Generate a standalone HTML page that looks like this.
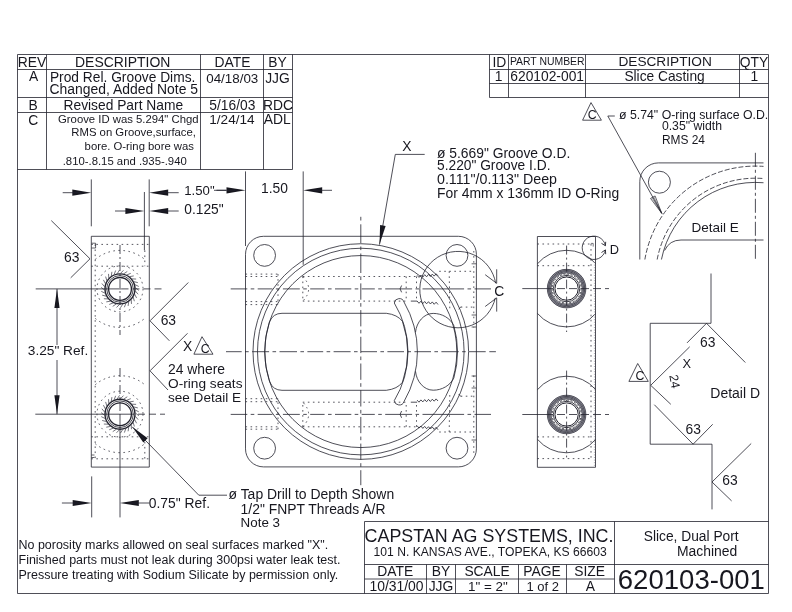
<!DOCTYPE html>
<html><head><meta charset="utf-8"><title>620103-001 Slice, Dual Port Machined</title>
<style>
html,body{margin:0;padding:0;background:#fff;}
body{width:792px;height:612px;overflow:hidden;font-family:"Liberation Sans",sans-serif;}
svg{display:block;will-change:transform;}
svg text{font-family:"Liberation Sans",sans-serif;fill:#17171f;}
</style></head><body>
<svg width="792" height="612" viewBox="0 0 792 612" shape-rendering="geometricPrecision">
<rect width="792" height="612" fill="#ffffff"/>
<path d="M17.5,54.5 H768.5 V593.5 H17.5 Z" fill="none" stroke="#22222d" stroke-width="0.8" />
<line x1="17.50" y1="69.50" x2="292.50" y2="69.50" stroke="#22222d" stroke-width="0.8"/>
<line x1="17.50" y1="97.50" x2="292.50" y2="97.50" stroke="#22222d" stroke-width="0.8"/>
<line x1="17.50" y1="112.50" x2="292.50" y2="112.50" stroke="#22222d" stroke-width="0.8"/>
<line x1="17.50" y1="169.50" x2="292.50" y2="169.50" stroke="#22222d" stroke-width="0.8"/>
<line x1="46.50" y1="54.50" x2="46.50" y2="169.50" stroke="#22222d" stroke-width="0.8"/>
<line x1="200.50" y1="54.50" x2="200.50" y2="169.50" stroke="#22222d" stroke-width="0.8"/>
<line x1="263.50" y1="54.50" x2="263.50" y2="169.50" stroke="#22222d" stroke-width="0.8"/>
<line x1="292.50" y1="54.50" x2="292.50" y2="169.50" stroke="#22222d" stroke-width="0.8"/>
<text x="31.90" y="67.00" font-size="13.85" text-anchor="middle">REV</text>
<text x="75.00" y="67.00" font-size="13.96" text-anchor="start" textLength="95.40" lengthAdjust="spacingAndGlyphs">DESCRIPTION</text>
<text x="232.45" y="67.00" font-size="13.85" text-anchor="middle">DATE</text>
<text x="277.50" y="67.00" font-size="13.85" text-anchor="middle">BY</text>
<text x="33.60" y="80.80" font-size="13.85" text-anchor="middle">A</text>
<text x="49.90" y="82.00" font-size="13.78" text-anchor="start" textLength="145.50" lengthAdjust="spacingAndGlyphs">Prod Rel. Groove Dims.</text>
<text x="49.50" y="93.50" font-size="13.91" text-anchor="start" textLength="148.50" lengthAdjust="spacingAndGlyphs">Changed, Added Note 5</text>
<text x="206.20" y="82.60" font-size="13.38" text-anchor="start" textLength="52.10" lengthAdjust="spacingAndGlyphs">04/18/03</text>
<text x="277.45" y="82.60" font-size="13.85" text-anchor="middle">JJG</text>
<text x="33.10" y="109.60" font-size="13.85" text-anchor="middle">B</text>
<text x="63.50" y="109.60" font-size="13.79" text-anchor="start" textLength="119.60" lengthAdjust="spacingAndGlyphs">Revised Part Name</text>
<text x="209.30" y="109.60" font-size="13.79" text-anchor="start" textLength="46.00" lengthAdjust="spacingAndGlyphs">5/16/03</text>
<text x="278.10" y="109.60" font-size="13.85" text-anchor="middle">RDC</text>
<text x="33.30" y="124.60" font-size="13.85" text-anchor="middle">C</text>
<text x="58.00" y="123.00" font-size="11.32" text-anchor="start" textLength="140.60" lengthAdjust="spacingAndGlyphs">Groove ID was 5.294&quot; Chgd</text>
<text x="71.30" y="135.80" font-size="11.33" text-anchor="start" textLength="124.70" lengthAdjust="spacingAndGlyphs">RMS on Groove,surface,</text>
<text x="84.60" y="149.50" font-size="11.31" text-anchor="start" textLength="109.40" lengthAdjust="spacingAndGlyphs">bore. O-ring bore was</text>
<text x="62.70" y="165.00" font-size="11.33" text-anchor="start" textLength="124.10" lengthAdjust="spacingAndGlyphs">.810-.8.15 and .935-.940</text>
<text x="209.30" y="123.60" font-size="13.58" text-anchor="start" textLength="45.30" lengthAdjust="spacingAndGlyphs">1/24/14</text>
<text x="277.25" y="123.60" font-size="13.85" text-anchor="middle">ADL</text>
<line x1="489.50" y1="69.50" x2="768.50" y2="69.50" stroke="#22222d" stroke-width="0.8"/>
<line x1="489.50" y1="83.50" x2="768.50" y2="83.50" stroke="#22222d" stroke-width="0.8"/>
<line x1="489.50" y1="97.50" x2="768.50" y2="97.50" stroke="#22222d" stroke-width="0.8"/>
<line x1="489.50" y1="54.50" x2="489.50" y2="97.50" stroke="#22222d" stroke-width="0.8"/>
<line x1="508.50" y1="54.50" x2="508.50" y2="97.50" stroke="#22222d" stroke-width="0.8"/>
<line x1="585.50" y1="54.50" x2="585.50" y2="97.50" stroke="#22222d" stroke-width="0.8"/>
<line x1="739.50" y1="54.50" x2="739.50" y2="97.50" stroke="#22222d" stroke-width="0.8"/>
<text x="499.40" y="66.80" font-size="13.85" text-anchor="middle">ID</text>
<text x="509.90" y="65.40" font-size="11.3" text-anchor="start" textLength="74.70" lengthAdjust="spacingAndGlyphs">PART NUMBER</text>
<text x="618.40" y="65.80" font-size="13.67" text-anchor="start" textLength="93.40" lengthAdjust="spacingAndGlyphs">DESCRIPTION</text>
<text x="754.05" y="66.60" font-size="13.85" text-anchor="middle">QTY</text>
<text x="498.50" y="81.00" font-size="13.85" text-anchor="middle">1</text>
<text x="510.30" y="81.00" font-size="13.81" text-anchor="start" textLength="73.70" lengthAdjust="spacingAndGlyphs">620102-001</text>
<text x="624.40" y="81.00" font-size="13.76" text-anchor="start" textLength="80.30" lengthAdjust="spacingAndGlyphs">Slice Casting</text>
<text x="754.30" y="81.00" font-size="13.85" text-anchor="middle">1</text>
<line x1="364.50" y1="521.50" x2="768.50" y2="521.50" stroke="#22222d" stroke-width="0.8"/>
<line x1="364.50" y1="521.50" x2="364.50" y2="593.50" stroke="#22222d" stroke-width="0.8"/>
<line x1="364.50" y1="564.50" x2="768.50" y2="564.50" stroke="#22222d" stroke-width="0.8"/>
<line x1="364.50" y1="579.00" x2="614.50" y2="579.00" stroke="#22222d" stroke-width="0.8"/>
<line x1="426.50" y1="564.50" x2="426.50" y2="593.50" stroke="#22222d" stroke-width="0.8"/>
<line x1="455.50" y1="564.50" x2="455.50" y2="593.50" stroke="#22222d" stroke-width="0.8"/>
<line x1="518.50" y1="564.50" x2="518.50" y2="593.50" stroke="#22222d" stroke-width="0.8"/>
<line x1="566.50" y1="564.50" x2="566.50" y2="593.50" stroke="#22222d" stroke-width="0.8"/>
<line x1="614.50" y1="521.50" x2="614.50" y2="593.50" stroke="#22222d" stroke-width="0.8"/>
<text x="364.60" y="542.00" font-size="17.87" text-anchor="start" textLength="248.90" lengthAdjust="spacingAndGlyphs">CAPSTAN AG SYSTEMS, INC.</text>
<text x="373.60" y="555.80" font-size="12.12" text-anchor="start" textLength="233.10" lengthAdjust="spacingAndGlyphs">101 N. KANSAS AVE., TOPEKA, KS 66603</text>
<text x="395.25" y="576.40" font-size="13.85" text-anchor="middle">DATE</text>
<text x="440.95" y="576.40" font-size="13.85" text-anchor="middle">BY</text>
<text x="464.40" y="576.40" font-size="13.81" text-anchor="start" textLength="45.30" lengthAdjust="spacingAndGlyphs">SCALE</text>
<text x="541.95" y="576.40" font-size="13.85" text-anchor="middle">PAGE</text>
<text x="589.65" y="576.40" font-size="13.85" text-anchor="middle">SIZE</text>
<text x="369.40" y="590.60" font-size="13.92" text-anchor="start" textLength="54.20" lengthAdjust="spacingAndGlyphs">10/31/00</text>
<text x="440.95" y="590.60" font-size="13.85" text-anchor="middle">JJG</text>
<text x="468.00" y="590.60" font-size="13.44" text-anchor="start" textLength="39.80" lengthAdjust="spacingAndGlyphs">1&quot; = 2&quot;</text>
<text x="526.40" y="590.60" font-size="12.99" text-anchor="start" textLength="32.50" lengthAdjust="spacingAndGlyphs">1 of 2</text>
<text x="590.45" y="590.60" font-size="13.85" text-anchor="middle">A</text>
<text x="643.70" y="541.00" font-size="13.78" text-anchor="start" textLength="95.00" lengthAdjust="spacingAndGlyphs">Slice, Dual Port</text>
<text x="677.00" y="556.00" font-size="13.91" text-anchor="start" textLength="60.30" lengthAdjust="spacingAndGlyphs">Machined</text>
<text x="617.80" y="588.50" font-size="27.55" text-anchor="start" textLength="147.10" lengthAdjust="spacingAndGlyphs">620103-001</text>
<text x="18.50" y="549.20" font-size="12.47" text-anchor="start" textLength="309.70" lengthAdjust="spacingAndGlyphs">No porosity marks allowed on seal surfaces marked &quot;X&quot;.</text>
<text x="18.50" y="564.20" font-size="12.48" text-anchor="start" textLength="322.00" lengthAdjust="spacingAndGlyphs">Finished parts must not leak during 300psi water leak test.</text>
<text x="18.50" y="578.90" font-size="12.49" text-anchor="start" textLength="319.70" lengthAdjust="spacingAndGlyphs">Pressure treating with Sodium Silicate by permission only.</text>
<rect x="245.5" y="236.3" width="230.90" height="230.60" rx="18" ry="18" fill="none" stroke="#22222d" stroke-width="0.8"/>
<circle cx="264.60" cy="255.40" r="10.90" fill="none" stroke="#22222d" stroke-width="0.8"/>
<circle cx="264.60" cy="448.20" r="10.90" fill="none" stroke="#22222d" stroke-width="0.8"/>
<circle cx="457.00" cy="255.40" r="10.90" fill="none" stroke="#22222d" stroke-width="0.8"/>
<circle cx="457.00" cy="448.20" r="10.90" fill="none" stroke="#22222d" stroke-width="0.8"/>
<circle cx="360.80" cy="351.55" r="107.80" fill="none" stroke="#22222d" stroke-width="0.8"/>
<circle cx="360.80" cy="351.55" r="103.30" fill="none" stroke="#22222d" stroke-width="0.8"/>
<circle cx="360.80" cy="351.55" r="96.00" fill="none" stroke="#22222d" stroke-width="0.8"/>
<line x1="360.80" y1="224.30" x2="360.80" y2="243.10" stroke="#22222d" stroke-width="0.8"/>
<line x1="360.80" y1="246.50" x2="360.80" y2="250.10" stroke="#22222d" stroke-width="0.8"/>
<line x1="360.80" y1="253.50" x2="360.80" y2="273.00" stroke="#22222d" stroke-width="0.8"/>
<line x1="360.80" y1="276.40" x2="360.80" y2="280.00" stroke="#22222d" stroke-width="0.8"/>
<line x1="360.80" y1="283.40" x2="360.80" y2="299.70" stroke="#22222d" stroke-width="0.8"/>
<line x1="360.80" y1="303.10" x2="360.80" y2="306.70" stroke="#22222d" stroke-width="0.8"/>
<line x1="360.80" y1="310.10" x2="360.80" y2="326.40" stroke="#22222d" stroke-width="0.8"/>
<line x1="360.80" y1="329.80" x2="360.80" y2="333.40" stroke="#22222d" stroke-width="0.8"/>
<line x1="360.80" y1="336.80" x2="360.80" y2="353.10" stroke="#22222d" stroke-width="0.8"/>
<line x1="360.80" y1="356.50" x2="360.80" y2="360.10" stroke="#22222d" stroke-width="0.8"/>
<line x1="360.80" y1="363.50" x2="360.80" y2="379.80" stroke="#22222d" stroke-width="0.8"/>
<line x1="360.80" y1="383.20" x2="360.80" y2="386.80" stroke="#22222d" stroke-width="0.8"/>
<line x1="360.80" y1="390.20" x2="360.80" y2="406.50" stroke="#22222d" stroke-width="0.8"/>
<line x1="360.80" y1="409.90" x2="360.80" y2="413.50" stroke="#22222d" stroke-width="0.8"/>
<line x1="360.80" y1="416.90" x2="360.80" y2="433.20" stroke="#22222d" stroke-width="0.8"/>
<line x1="360.80" y1="436.60" x2="360.80" y2="440.20" stroke="#22222d" stroke-width="0.8"/>
<line x1="360.80" y1="443.60" x2="360.80" y2="459.80" stroke="#22222d" stroke-width="0.8"/>
<line x1="360.80" y1="463.20" x2="360.80" y2="466.80" stroke="#22222d" stroke-width="0.8"/>
<line x1="360.80" y1="470.20" x2="360.80" y2="485.20" stroke="#22222d" stroke-width="0.8"/>
<line x1="360.80" y1="216.80" x2="360.80" y2="220.50" stroke="#22222d" stroke-width="0.8"/>
<line x1="226.00" y1="351.70" x2="241.70" y2="351.70" stroke="#22222d" stroke-width="0.8"/>
<line x1="245.10" y1="351.70" x2="248.70" y2="351.70" stroke="#22222d" stroke-width="0.8"/>
<line x1="252.10" y1="351.70" x2="269.10" y2="351.70" stroke="#22222d" stroke-width="0.8"/>
<line x1="272.50" y1="351.70" x2="276.10" y2="351.70" stroke="#22222d" stroke-width="0.8"/>
<line x1="279.50" y1="351.70" x2="297.00" y2="351.70" stroke="#22222d" stroke-width="0.8"/>
<line x1="300.40" y1="351.70" x2="304.00" y2="351.70" stroke="#22222d" stroke-width="0.8"/>
<line x1="307.40" y1="351.70" x2="323.20" y2="351.70" stroke="#22222d" stroke-width="0.8"/>
<line x1="326.60" y1="351.70" x2="330.20" y2="351.70" stroke="#22222d" stroke-width="0.8"/>
<line x1="333.60" y1="351.70" x2="350.60" y2="351.70" stroke="#22222d" stroke-width="0.8"/>
<line x1="354.00" y1="351.70" x2="357.60" y2="351.70" stroke="#22222d" stroke-width="0.8"/>
<line x1="361.00" y1="351.70" x2="377.00" y2="351.70" stroke="#22222d" stroke-width="0.8"/>
<line x1="380.40" y1="351.70" x2="384.00" y2="351.70" stroke="#22222d" stroke-width="0.8"/>
<line x1="387.40" y1="351.70" x2="404.00" y2="351.70" stroke="#22222d" stroke-width="0.8"/>
<line x1="407.40" y1="351.70" x2="411.00" y2="351.70" stroke="#22222d" stroke-width="0.8"/>
<line x1="414.40" y1="351.70" x2="431.00" y2="351.70" stroke="#22222d" stroke-width="0.8"/>
<line x1="434.40" y1="351.70" x2="438.00" y2="351.70" stroke="#22222d" stroke-width="0.8"/>
<line x1="441.40" y1="351.70" x2="458.70" y2="351.70" stroke="#22222d" stroke-width="0.8"/>
<line x1="462.10" y1="351.70" x2="465.70" y2="351.70" stroke="#22222d" stroke-width="0.8"/>
<line x1="469.10" y1="351.70" x2="485.70" y2="351.70" stroke="#22222d" stroke-width="0.8"/>
<line x1="489.30" y1="351.70" x2="495.90" y2="351.70" stroke="#22222d" stroke-width="0.8"/>
<line x1="230.70" y1="288.90" x2="247.30" y2="288.90" stroke="#22222d" stroke-width="0.8"/>
<line x1="250.70" y1="288.90" x2="254.30" y2="288.90" stroke="#22222d" stroke-width="0.8"/>
<line x1="257.70" y1="288.90" x2="272.50" y2="288.90" stroke="#22222d" stroke-width="0.8"/>
<line x1="275.90" y1="288.90" x2="279.50" y2="288.90" stroke="#22222d" stroke-width="0.8"/>
<line x1="282.90" y1="288.90" x2="299.80" y2="288.90" stroke="#22222d" stroke-width="0.8"/>
<line x1="303.20" y1="288.90" x2="306.80" y2="288.90" stroke="#22222d" stroke-width="0.8"/>
<line x1="310.20" y1="288.90" x2="324.60" y2="288.90" stroke="#22222d" stroke-width="0.8"/>
<line x1="328.00" y1="288.90" x2="331.60" y2="288.90" stroke="#22222d" stroke-width="0.8"/>
<line x1="335.00" y1="288.90" x2="351.30" y2="288.90" stroke="#22222d" stroke-width="0.8"/>
<line x1="354.70" y1="288.90" x2="358.30" y2="288.90" stroke="#22222d" stroke-width="0.8"/>
<line x1="361.70" y1="288.90" x2="374.80" y2="288.90" stroke="#22222d" stroke-width="0.8"/>
<line x1="378.20" y1="288.90" x2="381.80" y2="288.90" stroke="#22222d" stroke-width="0.8"/>
<line x1="385.20" y1="288.90" x2="412.10" y2="288.90" stroke="#22222d" stroke-width="0.8"/>
<line x1="415.50" y1="288.90" x2="419.10" y2="288.90" stroke="#22222d" stroke-width="0.8"/>
<line x1="422.50" y1="288.90" x2="464.10" y2="288.90" stroke="#22222d" stroke-width="0.8"/>
<line x1="467.50" y1="288.90" x2="471.10" y2="288.90" stroke="#22222d" stroke-width="0.8"/>
<line x1="474.50" y1="288.90" x2="491.00" y2="288.90" stroke="#22222d" stroke-width="0.8"/>
<line x1="230.70" y1="414.40" x2="247.30" y2="414.40" stroke="#22222d" stroke-width="0.8"/>
<line x1="250.70" y1="414.40" x2="254.30" y2="414.40" stroke="#22222d" stroke-width="0.8"/>
<line x1="257.70" y1="414.40" x2="272.50" y2="414.40" stroke="#22222d" stroke-width="0.8"/>
<line x1="275.90" y1="414.40" x2="279.50" y2="414.40" stroke="#22222d" stroke-width="0.8"/>
<line x1="282.90" y1="414.40" x2="299.80" y2="414.40" stroke="#22222d" stroke-width="0.8"/>
<line x1="303.20" y1="414.40" x2="306.80" y2="414.40" stroke="#22222d" stroke-width="0.8"/>
<line x1="310.20" y1="414.40" x2="324.60" y2="414.40" stroke="#22222d" stroke-width="0.8"/>
<line x1="328.00" y1="414.40" x2="331.60" y2="414.40" stroke="#22222d" stroke-width="0.8"/>
<line x1="335.00" y1="414.40" x2="351.30" y2="414.40" stroke="#22222d" stroke-width="0.8"/>
<line x1="354.70" y1="414.40" x2="358.30" y2="414.40" stroke="#22222d" stroke-width="0.8"/>
<line x1="361.70" y1="414.40" x2="374.80" y2="414.40" stroke="#22222d" stroke-width="0.8"/>
<line x1="378.20" y1="414.40" x2="381.80" y2="414.40" stroke="#22222d" stroke-width="0.8"/>
<line x1="385.20" y1="414.40" x2="412.10" y2="414.40" stroke="#22222d" stroke-width="0.8"/>
<line x1="415.50" y1="414.40" x2="419.10" y2="414.40" stroke="#22222d" stroke-width="0.8"/>
<line x1="422.50" y1="414.40" x2="464.10" y2="414.40" stroke="#22222d" stroke-width="0.8"/>
<line x1="467.50" y1="414.40" x2="471.10" y2="414.40" stroke="#22222d" stroke-width="0.8"/>
<line x1="474.50" y1="414.40" x2="491.00" y2="414.40" stroke="#22222d" stroke-width="0.8"/>
<path d="M282,313.3 Q273,313.3 269.49,321.9 A96.0,96.0 0 0 0 269.66,381.7 Q273,390.3 282,390.3 H386.3 Q397.5,389.0 402.5,382.2 A93.8,93.8 0 0 0 402.5,321.4 Q397.5,314.6 386.3,313.3 Z" fill="none" stroke="#22222d" stroke-width="0.8" />
<path d="M394.3,303.0 A5,5 0 0 1 404.0,302.0 A99.2,99.2 0 0 1 404.0,401.6 A5,5 0 0 1 394.3,400.6 A93.8,93.8 0 0 0 394.3,303.0 Z" fill="none" stroke="#22222d" stroke-width="0.8" />
<path d="M415.5,332.3 C416.5,322 424,313.4 433.2,313.4 C442,313.4 450,318 453.8,325.5 A96.0,96.0 0 0 1 453.8,378.1 C450,385.6 442,390.2 433.2,390.2 C424,390.2 416.5,381.6 415.5,371.3" fill="none" stroke="#22222d" stroke-width="0.8" />
<line x1="245.50" y1="274.10" x2="278.00" y2="274.10" stroke="#2c2c37" stroke-width="0.8" stroke-dasharray="1.6 3.45"/>
<line x1="245.50" y1="276.50" x2="278.00" y2="276.50" stroke="#2c2c37" stroke-width="0.8" stroke-dasharray="1.6 3.45"/>
<line x1="245.50" y1="301.60" x2="278.00" y2="301.60" stroke="#2c2c37" stroke-width="0.8" stroke-dasharray="1.6 3.45"/>
<line x1="245.50" y1="304.60" x2="278.00" y2="304.60" stroke="#2c2c37" stroke-width="0.8" stroke-dasharray="1.6 3.45"/>
<line x1="278.00" y1="274.10" x2="278.00" y2="304.60" stroke="#2c2c37" stroke-width="0.8" stroke-dasharray="1.6 3.45"/>
<line x1="302.80" y1="276.50" x2="417.00" y2="276.50" stroke="#2c2c37" stroke-width="0.8" stroke-dasharray="1.6 3.45"/>
<line x1="302.80" y1="301.10" x2="405.80" y2="301.10" stroke="#2c2c37" stroke-width="0.8" stroke-dasharray="1.6 3.45"/>
<line x1="302.80" y1="276.50" x2="302.80" y2="301.10" stroke="#2c2c37" stroke-width="0.8" stroke-dasharray="1.6 3.45"/>
<path d="M302.8,276.5 Q314.5,288.9 302.8,301.1" fill="none" stroke="#2c2c37" stroke-width="0.8" stroke-dasharray="1.6 3.45" />
<line x1="406.20" y1="276.50" x2="406.20" y2="301.10" stroke="#2c2c37" stroke-width="0.8" stroke-dasharray="1.6 3.45"/>
<line x1="416.50" y1="276.50" x2="416.50" y2="301.10" stroke="#2c2c37" stroke-width="0.8" stroke-dasharray="1.6 3.45"/>
<line x1="410.80" y1="301.10" x2="417.10" y2="301.10" stroke="#22222d" stroke-width="0.8"/>
<path d="M401.6,285.5 Q398.6,288.9 401.6,292.3" fill="none" stroke="#22222d" stroke-width="0.8" />
<polyline points="417.1,275.4 419.0,277.4 420.9,275.1 422.8,277.1 424.7,274.7 426.6,276.8 428.5,274.4 430.4,276.5 432.3,274.1 434.2,276.1 436.1,273.8 438.0,275.8" fill="none" stroke="#22222d" stroke-width="0.8"/>
<polyline points="417.1,301.0 419.0,303.3 420.9,301.2 422.8,303.6 424.7,301.5 426.6,303.8 428.5,301.7 430.4,304.0 432.3,301.9 434.2,304.3 436.1,302.2 438.0,304.5" fill="none" stroke="#22222d" stroke-width="0.8"/>
<line x1="439.20" y1="271.30" x2="474.00" y2="271.30" stroke="#2c2c37" stroke-width="0.8" stroke-dasharray="1.6 3.45"/>
<line x1="460.70" y1="307.10" x2="474.00" y2="307.10" stroke="#2c2c37" stroke-width="0.8" stroke-dasharray="1.6 3.45"/>
<line x1="449.20" y1="271.30" x2="449.80" y2="309.90" stroke="#2c2c37" stroke-width="0.8" stroke-dasharray="1.6 3.45"/>
<path d="M458.6,309.3 L461.0,306.7" fill="none" stroke="#22222d" stroke-width="0.7" />
<line x1="245.50" y1="429.20" x2="278.00" y2="429.20" stroke="#2c2c37" stroke-width="0.8" stroke-dasharray="1.6 3.45"/>
<line x1="245.50" y1="426.80" x2="278.00" y2="426.80" stroke="#2c2c37" stroke-width="0.8" stroke-dasharray="1.6 3.45"/>
<line x1="245.50" y1="401.70" x2="278.00" y2="401.70" stroke="#2c2c37" stroke-width="0.8" stroke-dasharray="1.6 3.45"/>
<line x1="245.50" y1="398.70" x2="278.00" y2="398.70" stroke="#2c2c37" stroke-width="0.8" stroke-dasharray="1.6 3.45"/>
<line x1="278.00" y1="429.20" x2="278.00" y2="398.70" stroke="#2c2c37" stroke-width="0.8" stroke-dasharray="1.6 3.45"/>
<line x1="302.80" y1="426.80" x2="417.00" y2="426.80" stroke="#2c2c37" stroke-width="0.8" stroke-dasharray="1.6 3.45"/>
<line x1="302.80" y1="402.20" x2="405.80" y2="402.20" stroke="#2c2c37" stroke-width="0.8" stroke-dasharray="1.6 3.45"/>
<line x1="302.80" y1="426.80" x2="302.80" y2="402.20" stroke="#2c2c37" stroke-width="0.8" stroke-dasharray="1.6 3.45"/>
<path d="M302.8,426.8 Q314.5,414.4 302.8,402.2" fill="none" stroke="#2c2c37" stroke-width="0.8" stroke-dasharray="1.6 3.45" />
<line x1="406.20" y1="426.80" x2="406.20" y2="402.20" stroke="#2c2c37" stroke-width="0.8" stroke-dasharray="1.6 3.45"/>
<line x1="416.50" y1="426.80" x2="416.50" y2="402.20" stroke="#2c2c37" stroke-width="0.8" stroke-dasharray="1.6 3.45"/>
<line x1="410.80" y1="402.20" x2="417.10" y2="402.20" stroke="#22222d" stroke-width="0.8"/>
<path d="M401.6,411.0 Q398.6,414.4 401.6,417.8" fill="none" stroke="#22222d" stroke-width="0.8" />
<polyline points="417.1,425.7 419.0,428.1 420.9,426.0 422.8,428.4 424.7,426.4 426.6,428.7 428.5,426.7 430.4,429.0 432.3,427.0 434.2,429.4 436.1,427.3 438.0,429.7" fill="none" stroke="#22222d" stroke-width="0.8"/>
<polyline points="417.1,400.1 419.0,402.2 420.9,399.9 422.8,401.9 424.7,399.6 426.6,401.7 428.5,399.4 430.4,401.5 432.3,399.2 434.2,401.2 436.1,398.9 438.0,401.0" fill="none" stroke="#22222d" stroke-width="0.8"/>
<line x1="439.20" y1="432.00" x2="474.00" y2="432.00" stroke="#2c2c37" stroke-width="0.8" stroke-dasharray="1.6 3.45"/>
<line x1="460.70" y1="396.20" x2="474.00" y2="396.20" stroke="#2c2c37" stroke-width="0.8" stroke-dasharray="1.6 3.45"/>
<line x1="449.20" y1="432.00" x2="449.80" y2="393.40" stroke="#2c2c37" stroke-width="0.8" stroke-dasharray="1.6 3.45"/>
<path d="M458.6,394.0 L461.0,396.6" fill="none" stroke="#22222d" stroke-width="0.7" />
<line x1="473.80" y1="251.00" x2="473.80" y2="327.50" stroke="#2c2c37" stroke-width="0.8" stroke-dasharray="1.6 3.45"/>
<line x1="473.80" y1="375.50" x2="473.80" y2="456.00" stroke="#2c2c37" stroke-width="0.8" stroke-dasharray="1.6 3.45"/>
<line x1="471.60" y1="263.80" x2="476.20" y2="263.80" stroke="#22222d" stroke-width="0.7"/>
<line x1="471.60" y1="315.00" x2="476.20" y2="315.00" stroke="#22222d" stroke-width="0.7"/>
<line x1="471.60" y1="327.00" x2="476.20" y2="327.00" stroke="#22222d" stroke-width="0.7"/>
<line x1="471.60" y1="376.00" x2="476.20" y2="376.00" stroke="#22222d" stroke-width="0.7"/>
<line x1="471.60" y1="388.00" x2="476.20" y2="388.00" stroke="#22222d" stroke-width="0.7"/>
<line x1="471.60" y1="440.00" x2="476.20" y2="440.00" stroke="#22222d" stroke-width="0.7"/>
<line x1="245.50" y1="171.40" x2="245.50" y2="246.00" stroke="#22222d" stroke-width="0.8"/>
<line x1="303.20" y1="171.40" x2="303.20" y2="264.80" stroke="#22222d" stroke-width="0.8"/>
<text x="274.55" y="193.30" font-size="13.85" text-anchor="middle">1.50</text>
<polygon points="245.50,190.30 226.50,193.40 226.50,187.20" fill="#17171f" stroke="none"/>
<line x1="214.00" y1="190.30" x2="235.50" y2="190.30" stroke="#22222d" stroke-width="0.8"/>
<polygon points="303.20,190.30 322.20,187.20 322.20,193.40" fill="#17171f" stroke="none"/>
<line x1="313.20" y1="190.30" x2="332.00" y2="190.30" stroke="#22222d" stroke-width="0.8"/>
<line x1="395.30" y1="154.40" x2="424.70" y2="154.40" stroke="#22222d" stroke-width="0.8"/>
<line x1="395.30" y1="154.40" x2="379.50" y2="244.60" stroke="#22222d" stroke-width="0.8"/>
<polygon points="379.50,244.60 380.11,224.91 385.62,225.88" fill="#17171f" stroke="none"/>
<text x="406.85" y="150.60" font-size="13.85" text-anchor="middle">X</text>
<text x="437.00" y="157.60" font-size="13.83" text-anchor="start" textLength="133.30" lengthAdjust="spacingAndGlyphs">ø 5.669&quot; Groove O.D.</text>
<text x="437.00" y="170.20" font-size="13.76" text-anchor="start" textLength="113.50" lengthAdjust="spacingAndGlyphs">5.220&quot; Groove I.D.</text>
<text x="437.00" y="183.70" font-size="14.22" text-anchor="start" textLength="120.00" lengthAdjust="spacingAndGlyphs">0.111&quot;/0.113&quot; Deep</text>
<text x="437.00" y="197.90" font-size="13.89" text-anchor="start" textLength="182.20" lengthAdjust="spacingAndGlyphs">For 4mm x 136mm ID O-Ring</text>
<path d="M495.68,283.30 A38.2,38.2 0 1 0 495.29,297.90" fill="none" stroke="#22222d" stroke-width="0.8" />
<path d="M485.2,274.7 L496.7,283.3 L496.7,269.3" fill="none" stroke="#22222d" stroke-width="0.8" />
<path d="M485.2,306.5 L496.7,297.9 L496.7,311.6" fill="none" stroke="#22222d" stroke-width="0.8" />
<text x="499.30" y="296.40" font-size="13.85" text-anchor="middle">C</text>
<path d="M91.3,236.3 H149.3 V467.1 H91.3 Z" fill="none" stroke="#22222d" stroke-width="0.8" />
<circle cx="120.00" cy="288.90" r="11.40" fill="none" stroke="#22222d" stroke-width="1.3"/>
<circle cx="120.00" cy="288.90" r="13.30" fill="none" stroke="#22222d" stroke-width="0.8"/>
<circle cx="120.00" cy="288.90" r="15.00" fill="none" stroke="#22222d" stroke-width="1.4"/>
<line x1="135.27" y1="290.90" x2="138.11" y2="294.30" stroke="#50505a" stroke-width="0.8"/>
<line x1="134.52" y1="294.03" x2="136.59" y2="297.95" stroke="#50505a" stroke-width="0.8"/>
<line x1="133.14" y1="296.93" x2="134.35" y2="301.20" stroke="#50505a" stroke-width="0.8"/>
<line x1="131.18" y1="299.49" x2="131.48" y2="303.92" stroke="#50505a" stroke-width="0.8"/>
<line x1="128.73" y1="301.58" x2="128.10" y2="305.98" stroke="#50505a" stroke-width="0.8"/>
<line x1="125.91" y1="303.12" x2="124.37" y2="307.29" stroke="#50505a" stroke-width="0.8"/>
<line x1="122.82" y1="304.04" x2="120.46" y2="307.79" stroke="#50505a" stroke-width="0.8"/>
<line x1="119.61" y1="304.30" x2="116.52" y2="307.48" stroke="#50505a" stroke-width="0.8"/>
<line x1="116.42" y1="303.88" x2="112.73" y2="306.35" stroke="#50505a" stroke-width="0.8"/>
<line x1="113.38" y1="302.81" x2="109.26" y2="304.45" stroke="#50505a" stroke-width="0.8"/>
<line x1="110.64" y1="301.13" x2="106.26" y2="301.88" stroke="#50505a" stroke-width="0.8"/>
<line x1="108.30" y1="298.91" x2="103.87" y2="298.74" stroke="#50505a" stroke-width="0.8"/>
<line x1="106.47" y1="296.26" x2="102.17" y2="295.17" stroke="#50505a" stroke-width="0.8"/>
<line x1="105.24" y1="293.29" x2="101.26" y2="291.33" stroke="#50505a" stroke-width="0.8"/>
<line x1="104.65" y1="290.12" x2="101.16" y2="287.38" stroke="#50505a" stroke-width="0.8"/>
<line x1="104.73" y1="286.90" x2="101.89" y2="283.50" stroke="#50505a" stroke-width="0.8"/>
<line x1="105.48" y1="283.77" x2="103.41" y2="279.85" stroke="#50505a" stroke-width="0.8"/>
<line x1="106.86" y1="280.87" x2="105.65" y2="276.60" stroke="#50505a" stroke-width="0.8"/>
<line x1="108.82" y1="278.31" x2="108.52" y2="273.88" stroke="#50505a" stroke-width="0.8"/>
<line x1="111.27" y1="276.22" x2="111.90" y2="271.82" stroke="#50505a" stroke-width="0.8"/>
<line x1="114.09" y1="274.68" x2="115.63" y2="270.51" stroke="#50505a" stroke-width="0.8"/>
<line x1="117.18" y1="273.76" x2="119.54" y2="270.01" stroke="#50505a" stroke-width="0.8"/>
<line x1="120.39" y1="273.50" x2="123.48" y2="270.32" stroke="#50505a" stroke-width="0.8"/>
<line x1="123.58" y1="273.92" x2="127.27" y2="271.45" stroke="#50505a" stroke-width="0.8"/>
<line x1="126.62" y1="274.99" x2="130.74" y2="273.35" stroke="#50505a" stroke-width="0.8"/>
<line x1="129.36" y1="276.67" x2="133.74" y2="275.92" stroke="#50505a" stroke-width="0.8"/>
<line x1="131.70" y1="278.89" x2="136.13" y2="279.06" stroke="#50505a" stroke-width="0.8"/>
<line x1="133.53" y1="281.54" x2="137.83" y2="282.63" stroke="#50505a" stroke-width="0.8"/>
<line x1="134.76" y1="284.51" x2="138.74" y2="286.47" stroke="#50505a" stroke-width="0.8"/>
<line x1="135.35" y1="287.68" x2="138.84" y2="290.42" stroke="#50505a" stroke-width="0.8"/>
<circle cx="120.00" cy="288.90" r="23.00" fill="none" stroke="#2c2c37" stroke-width="0.8" stroke-dasharray="1.6 3.45"/>
<circle cx="120.00" cy="414.20" r="11.40" fill="none" stroke="#22222d" stroke-width="1.3"/>
<circle cx="120.00" cy="414.20" r="13.30" fill="none" stroke="#22222d" stroke-width="0.8"/>
<circle cx="120.00" cy="414.20" r="15.00" fill="none" stroke="#22222d" stroke-width="1.4"/>
<line x1="135.27" y1="416.20" x2="138.11" y2="419.60" stroke="#50505a" stroke-width="0.8"/>
<line x1="134.52" y1="419.33" x2="136.59" y2="423.25" stroke="#50505a" stroke-width="0.8"/>
<line x1="133.14" y1="422.23" x2="134.35" y2="426.50" stroke="#50505a" stroke-width="0.8"/>
<line x1="131.18" y1="424.79" x2="131.48" y2="429.22" stroke="#50505a" stroke-width="0.8"/>
<line x1="128.73" y1="426.88" x2="128.10" y2="431.28" stroke="#50505a" stroke-width="0.8"/>
<line x1="125.91" y1="428.42" x2="124.37" y2="432.59" stroke="#50505a" stroke-width="0.8"/>
<line x1="122.82" y1="429.34" x2="120.46" y2="433.09" stroke="#50505a" stroke-width="0.8"/>
<line x1="119.61" y1="429.60" x2="116.52" y2="432.78" stroke="#50505a" stroke-width="0.8"/>
<line x1="116.42" y1="429.18" x2="112.73" y2="431.65" stroke="#50505a" stroke-width="0.8"/>
<line x1="113.38" y1="428.11" x2="109.26" y2="429.75" stroke="#50505a" stroke-width="0.8"/>
<line x1="110.64" y1="426.43" x2="106.26" y2="427.18" stroke="#50505a" stroke-width="0.8"/>
<line x1="108.30" y1="424.21" x2="103.87" y2="424.04" stroke="#50505a" stroke-width="0.8"/>
<line x1="106.47" y1="421.56" x2="102.17" y2="420.47" stroke="#50505a" stroke-width="0.8"/>
<line x1="105.24" y1="418.59" x2="101.26" y2="416.63" stroke="#50505a" stroke-width="0.8"/>
<line x1="104.65" y1="415.42" x2="101.16" y2="412.68" stroke="#50505a" stroke-width="0.8"/>
<line x1="104.73" y1="412.20" x2="101.89" y2="408.80" stroke="#50505a" stroke-width="0.8"/>
<line x1="105.48" y1="409.07" x2="103.41" y2="405.15" stroke="#50505a" stroke-width="0.8"/>
<line x1="106.86" y1="406.17" x2="105.65" y2="401.90" stroke="#50505a" stroke-width="0.8"/>
<line x1="108.82" y1="403.61" x2="108.52" y2="399.18" stroke="#50505a" stroke-width="0.8"/>
<line x1="111.27" y1="401.52" x2="111.90" y2="397.12" stroke="#50505a" stroke-width="0.8"/>
<line x1="114.09" y1="399.98" x2="115.63" y2="395.81" stroke="#50505a" stroke-width="0.8"/>
<line x1="117.18" y1="399.06" x2="119.54" y2="395.31" stroke="#50505a" stroke-width="0.8"/>
<line x1="120.39" y1="398.80" x2="123.48" y2="395.62" stroke="#50505a" stroke-width="0.8"/>
<line x1="123.58" y1="399.22" x2="127.27" y2="396.75" stroke="#50505a" stroke-width="0.8"/>
<line x1="126.62" y1="400.29" x2="130.74" y2="398.65" stroke="#50505a" stroke-width="0.8"/>
<line x1="129.36" y1="401.97" x2="133.74" y2="401.22" stroke="#50505a" stroke-width="0.8"/>
<line x1="131.70" y1="404.19" x2="136.13" y2="404.36" stroke="#50505a" stroke-width="0.8"/>
<line x1="133.53" y1="406.84" x2="137.83" y2="407.93" stroke="#50505a" stroke-width="0.8"/>
<line x1="134.76" y1="409.81" x2="138.74" y2="411.77" stroke="#50505a" stroke-width="0.8"/>
<line x1="135.35" y1="412.98" x2="138.84" y2="415.72" stroke="#50505a" stroke-width="0.8"/>
<circle cx="120.00" cy="414.20" r="23.00" fill="none" stroke="#2c2c37" stroke-width="0.8" stroke-dasharray="1.6 3.45"/>
<path d="M95.20,259.45 A38.5,38.5 0 0 1 145.30,259.88" fill="none" stroke="#2c2c37" stroke-width="0.8" stroke-dasharray="1.6 3.45" />
<path d="M95.20,318.35 A38.5,38.5 0 0 0 145.30,317.92" fill="none" stroke="#2c2c37" stroke-width="0.8" stroke-dasharray="1.6 3.45" />
<path d="M95.20,384.75 A38.5,38.5 0 0 1 145.30,385.18" fill="none" stroke="#2c2c37" stroke-width="0.8" stroke-dasharray="1.6 3.45" />
<path d="M95.20,443.65 A38.5,38.5 0 0 0 145.30,443.22" fill="none" stroke="#2c2c37" stroke-width="0.8" stroke-dasharray="1.6 3.45" />
<line x1="91.30" y1="244.40" x2="149.30" y2="244.40" stroke="#2c2c37" stroke-width="0.8" stroke-dasharray="1.6 3.45"/>
<line x1="91.30" y1="266.20" x2="149.30" y2="266.20" stroke="#2c2c37" stroke-width="0.8" stroke-dasharray="1.6 3.45"/>
<line x1="91.30" y1="436.80" x2="149.30" y2="436.80" stroke="#2c2c37" stroke-width="0.8" stroke-dasharray="1.6 3.45"/>
<line x1="91.30" y1="458.80" x2="149.30" y2="458.80" stroke="#2c2c37" stroke-width="0.8" stroke-dasharray="1.6 3.45"/>
<line x1="95.20" y1="244.40" x2="95.20" y2="458.80" stroke="#2c2c37" stroke-width="0.8" stroke-dasharray="1.6 3.45"/>
<line x1="144.80" y1="250.40" x2="144.80" y2="266.20" stroke="#2c2c37" stroke-width="0.8" stroke-dasharray="1.6 3.45"/>
<line x1="144.80" y1="436.80" x2="144.80" y2="458.80" stroke="#2c2c37" stroke-width="0.8" stroke-dasharray="1.6 3.45"/>
<path d="M91.5,243.2 H95.6 V248 H91.5" fill="none" stroke="#22222d" stroke-width="0.7" />
<path d="M91.5,455 H94.5 M91.5,457.5 H94.5" fill="none" stroke="#22222d" stroke-width="0.7" />
<line x1="120.00" y1="245.00" x2="120.00" y2="335.00" stroke="#22222d" stroke-width="0.8" stroke-dasharray="9 3 2 3"/>
<line x1="120.00" y1="368.00" x2="120.00" y2="414.00" stroke="#22222d" stroke-width="0.8" stroke-dasharray="9 3 2 3"/>
<line x1="120.00" y1="414.00" x2="120.00" y2="517.40" stroke="#22222d" stroke-width="0.8"/>
<line x1="35.70" y1="288.90" x2="121.50" y2="288.90" stroke="#22222d" stroke-width="0.8"/>
<line x1="121.50" y1="288.90" x2="163.80" y2="288.90" stroke="#22222d" stroke-width="0.8" stroke-dasharray="7 4"/>
<line x1="35.30" y1="414.20" x2="127.00" y2="414.20" stroke="#22222d" stroke-width="0.8"/>
<line x1="127.00" y1="414.20" x2="165.00" y2="414.20" stroke="#22222d" stroke-width="0.8" stroke-dasharray="7 4"/>
<line x1="91.30" y1="179.40" x2="91.30" y2="226.30" stroke="#22222d" stroke-width="0.8"/>
<line x1="149.20" y1="179.40" x2="149.20" y2="226.30" stroke="#22222d" stroke-width="0.8"/>
<line x1="144.40" y1="192.00" x2="144.40" y2="250.30" stroke="#22222d" stroke-width="0.8"/>
<polygon points="91.30,192.70 72.30,195.80 72.30,189.60" fill="#17171f" stroke="none"/>
<line x1="62.70" y1="192.70" x2="81.30" y2="192.70" stroke="#22222d" stroke-width="0.8"/>
<polygon points="149.20,192.70 168.20,189.60 168.20,195.80" fill="#17171f" stroke="none"/>
<line x1="159.00" y1="192.70" x2="178.70" y2="192.70" stroke="#22222d" stroke-width="0.8"/>
<polygon points="144.40,211.00 125.40,214.10 125.40,207.90" fill="#17171f" stroke="none"/>
<line x1="115.00" y1="211.00" x2="134.00" y2="211.00" stroke="#22222d" stroke-width="0.8"/>
<polygon points="149.20,211.00 168.20,207.90 168.20,214.10" fill="#17171f" stroke="none"/>
<line x1="159.00" y1="211.00" x2="178.70" y2="211.00" stroke="#22222d" stroke-width="0.8"/>
<text x="184.30" y="195.30" font-size="13.17" text-anchor="start" textLength="30.30" lengthAdjust="spacingAndGlyphs">1.50&quot;</text>
<line x1="216.50" y1="190.30" x2="226.00" y2="190.30" stroke="#22222d" stroke-width="0.8"/>
<text x="184.30" y="213.50" font-size="13.75" text-anchor="start" textLength="39.30" lengthAdjust="spacingAndGlyphs">0.125&quot;</text>
<line x1="57.00" y1="288.90" x2="57.00" y2="345.00" stroke="#22222d" stroke-width="0.8"/>
<line x1="57.00" y1="360.00" x2="57.00" y2="414.20" stroke="#22222d" stroke-width="0.8"/>
<polygon points="57.00,288.90 59.60,307.90 54.40,307.90" fill="#17171f" stroke="none"/>
<polygon points="57.00,414.20 54.40,395.20 59.60,395.20" fill="#17171f" stroke="none"/>
<text x="27.80" y="354.60" font-size="13.69" text-anchor="start" textLength="60.40" lengthAdjust="spacingAndGlyphs">3.25&quot; Ref.</text>
<line x1="91.70" y1="476.40" x2="91.70" y2="517.40" stroke="#22222d" stroke-width="0.8"/>
<polygon points="91.70,503.00 72.70,506.10 72.70,499.90" fill="#17171f" stroke="none"/>
<line x1="61.90" y1="503.00" x2="80.00" y2="503.00" stroke="#22222d" stroke-width="0.8"/>
<polygon points="119.80,503.00 138.80,499.90 138.80,506.10" fill="#17171f" stroke="none"/>
<line x1="130.00" y1="503.00" x2="149.30" y2="503.00" stroke="#22222d" stroke-width="0.8"/>
<text x="148.80" y="507.90" font-size="13.87" text-anchor="start" textLength="61.20" lengthAdjust="spacingAndGlyphs">0.75&quot; Ref.</text>
<polygon points="132.20,426.80 147.64,438.27 143.35,442.47" fill="#17171f" stroke="none"/>
<line x1="132.20" y1="426.80" x2="198.80" y2="495.20" stroke="#22222d" stroke-width="0.8"/>
<line x1="198.80" y1="495.20" x2="227.00" y2="495.20" stroke="#22222d" stroke-width="0.8"/>
<text x="228.50" y="498.60" font-size="13.95" text-anchor="start" textLength="165.70" lengthAdjust="spacingAndGlyphs">ø Tap Drill to Depth Shown</text>
<text x="240.60" y="513.70" font-size="13.89" text-anchor="start" textLength="144.90" lengthAdjust="spacingAndGlyphs">1/2&quot; FNPT Threads A/R</text>
<text x="240.60" y="526.70" font-size="13.37" text-anchor="start" textLength="39.40" lengthAdjust="spacingAndGlyphs">Note 3</text>
<path d="M51.3,220.6 L90,258.8 L70.7,277.8" fill="none" stroke="#22222d" stroke-width="0.8" />
<text x="71.75" y="262.20" font-size="13.85" text-anchor="middle">63</text>
<path d="M188.3,282.5 L150,320.8 L169.4,340.8" fill="none" stroke="#22222d" stroke-width="0.8" />
<text x="168.35" y="324.60" font-size="13.85" text-anchor="middle">63</text>
<path d="M187.5,333.3 L150,370.8 L168,390" fill="none" stroke="#22222d" stroke-width="0.8" />
<text x="187.50" y="350.60" font-size="13.85" text-anchor="middle">X</text>
<path d="M193.9,354.2 L213,354.2 L202,336.7 Z" fill="none" stroke="#22222d" stroke-width="0.8" />
<text x="205.25" y="352.90" font-size="12.3" text-anchor="middle">C</text>
<text x="168.00" y="373.60" font-size="13.86" text-anchor="start" textLength="57.00" lengthAdjust="spacingAndGlyphs">24 where</text>
<text x="168.00" y="388.00" font-size="13.68" text-anchor="start" textLength="74.50" lengthAdjust="spacingAndGlyphs">O-ring seats</text>
<text x="168.00" y="401.80" font-size="13.56" text-anchor="start" textLength="73.10" lengthAdjust="spacingAndGlyphs">see Detail E</text>
<path d="M537.4,236.5 H595.5 V467.3 H537.4 Z" fill="none" stroke="#22222d" stroke-width="0.8" />
<circle cx="566.60" cy="288.60" r="17.55" fill="none" stroke="#9c9ca6" stroke-width="3.9"/>
<circle cx="566.60" cy="288.60" r="15.70" fill="none" stroke="#22222d" stroke-width="0.65"/>
<circle cx="566.60" cy="288.60" r="16.90" fill="none" stroke="#22222d" stroke-width="0.65"/>
<circle cx="566.60" cy="288.60" r="18.10" fill="none" stroke="#22222d" stroke-width="0.65"/>
<circle cx="566.60" cy="288.60" r="19.30" fill="none" stroke="#22222d" stroke-width="0.65"/>
<circle cx="566.60" cy="288.60" r="11.65" fill="none" stroke="#22222d" stroke-width="1.0"/>
<circle cx="566.60" cy="288.60" r="13.20" fill="none" stroke="#22222d" stroke-width="0.9"/>
<circle cx="566.60" cy="288.60" r="14.50" fill="none" stroke="#22222d" stroke-width="0.8" stroke-dasharray="2 1.6"/>
<circle cx="566.60" cy="414.50" r="17.55" fill="none" stroke="#9c9ca6" stroke-width="3.9"/>
<circle cx="566.60" cy="414.50" r="15.70" fill="none" stroke="#22222d" stroke-width="0.65"/>
<circle cx="566.60" cy="414.50" r="16.90" fill="none" stroke="#22222d" stroke-width="0.65"/>
<circle cx="566.60" cy="414.50" r="18.10" fill="none" stroke="#22222d" stroke-width="0.65"/>
<circle cx="566.60" cy="414.50" r="19.30" fill="none" stroke="#22222d" stroke-width="0.65"/>
<circle cx="566.60" cy="414.50" r="11.65" fill="none" stroke="#22222d" stroke-width="1.0"/>
<circle cx="566.60" cy="414.50" r="13.20" fill="none" stroke="#22222d" stroke-width="0.9"/>
<circle cx="566.60" cy="414.50" r="14.50" fill="none" stroke="#22222d" stroke-width="0.8" stroke-dasharray="2 1.6"/>
<path d="M537.40,263.82 A38.3,38.3 0 0 1 595.50,263.47" fill="none" stroke="#22222d" stroke-width="0.8" />
<path d="M537.40,313.38 A38.3,38.3 0 0 0 595.50,313.73" fill="none" stroke="#22222d" stroke-width="0.8" />
<path d="M537.40,389.72 A38.3,38.3 0 0 1 595.50,389.37" fill="none" stroke="#22222d" stroke-width="0.8" />
<path d="M537.40,439.28 A38.3,38.3 0 0 0 595.50,439.63" fill="none" stroke="#22222d" stroke-width="0.8" />
<line x1="537.40" y1="244.00" x2="590.40" y2="244.00" stroke="#2c2c37" stroke-width="0.8" stroke-dasharray="1.6 3.45"/>
<line x1="537.40" y1="265.70" x2="590.40" y2="265.70" stroke="#2c2c37" stroke-width="0.8" stroke-dasharray="1.6 3.45"/>
<line x1="537.40" y1="436.90" x2="590.40" y2="436.90" stroke="#2c2c37" stroke-width="0.8" stroke-dasharray="1.6 3.45"/>
<line x1="537.40" y1="458.60" x2="590.40" y2="458.60" stroke="#2c2c37" stroke-width="0.8" stroke-dasharray="1.6 3.45"/>
<line x1="591.00" y1="244.00" x2="591.00" y2="458.60" stroke="#2c2c37" stroke-width="0.8" stroke-dasharray="1.6 3.45"/>
<line x1="594.40" y1="262.00" x2="594.40" y2="467.30" stroke="#8a8a94" stroke-width="0.7" stroke-dasharray="1 1.6"/>
<line x1="566.60" y1="245.60" x2="566.60" y2="332.00" stroke="#22222d" stroke-width="0.8" stroke-dasharray="9 3 2 3"/>
<line x1="566.60" y1="370.60" x2="566.60" y2="457.40" stroke="#22222d" stroke-width="0.8" stroke-dasharray="9 3 2 3"/>
<line x1="522.30" y1="288.60" x2="545.00" y2="288.60" stroke="#22222d" stroke-width="0.8"/>
<line x1="545.00" y1="288.60" x2="609.00" y2="288.60" stroke="#22222d" stroke-width="0.8" stroke-dasharray="8 4"/>
<line x1="522.30" y1="414.50" x2="545.00" y2="414.50" stroke="#22222d" stroke-width="0.8"/>
<line x1="545.00" y1="414.50" x2="609.00" y2="414.50" stroke="#22222d" stroke-width="0.8" stroke-dasharray="8 4"/>
<path d="M605.41,245.70 A11.7,11.7 0 1 0 605.41,249.90" fill="none" stroke="#22222d" stroke-width="0.8" />
<path d="M601.5,243.4 L605.4,245.7 L605.7,241.8" fill="none" stroke="#22222d" stroke-width="0.9" />
<path d="M601.5,252.5 L605.4,249.9 L605.7,254.2" fill="none" stroke="#22222d" stroke-width="0.9" />
<text x="614.40" y="253.90" font-size="12.8" text-anchor="middle">D</text>
<path d="M590.8,243.4 H593.2 V246.6" fill="none" stroke="#22222d" stroke-width="0.6" />
<path d="M639.8,259.5 V181.50 A18.6,18.6 0 0 1 658.40,162.9 H763.5" fill="none" stroke="#22222d" stroke-width="0.8" />
<circle cx="659.40" cy="182.20" r="11.00" fill="none" stroke="#22222d" stroke-width="0.8"/>
<path d="M644.87,259.5 A112.1,112.1 0 0 1 763.50,166.39" fill="none" stroke="#22222d" stroke-width="0.8" stroke-dasharray="5 2" />
<path d="M657.16,259.5 A100.0,100.0 0 0 1 763.50,178.53" fill="none" stroke="#22222d" stroke-width="0.8" stroke-dasharray="5 2" />
<path d="M661.44,259.5 A95.8,95.8 0 0 1 763.50,182.74" fill="none" stroke="#22222d" stroke-width="0.8" />
<path d="M763.5,240.0 H681 Q669.5,240.0 664.6,250.5" fill="none" stroke="#22222d" stroke-width="0.8" />
<line x1="755.40" y1="152.80" x2="755.40" y2="259.50" stroke="#22222d" stroke-width="0.8" stroke-dasharray="14 3 3 3"/>
<text x="691.60" y="232.40" font-size="13.51" text-anchor="start" textLength="47.30" lengthAdjust="spacingAndGlyphs">Detail E</text>
<line x1="607.80" y1="116.00" x2="614.80" y2="116.00" stroke="#22222d" stroke-width="0.8"/>
<line x1="607.80" y1="116.00" x2="661.80" y2="213.40" stroke="#22222d" stroke-width="0.8"/>
<path d="M661.80,213.40 L650.56,198.48 L655.10,195.96 Z" fill="none" stroke="#22222d" stroke-width="0.7" />
<path d="M661.80,213.40 L651.92,197.72 M661.80,213.40 L653.74,196.72" fill="none" stroke="#22222d" stroke-width="0.5" />
<path d="M582.6,120.2 L601.4,120.2 L591.0,102.6 Z" fill="none" stroke="#22222d" stroke-width="0.8" />
<text x="592.20" y="118.60" font-size="12.3" text-anchor="middle">C</text>
<text x="619.00" y="118.70" font-size="12.29" text-anchor="start" textLength="149.20" lengthAdjust="spacingAndGlyphs">ø 5.74&quot; O-ring surface O.D.</text>
<text x="661.90" y="130.40" font-size="12.23" text-anchor="start" textLength="60.10" lengthAdjust="spacingAndGlyphs">0.35&quot; width</text>
<text x="661.90" y="144.40" font-size="11.93" text-anchor="start" textLength="43.10" lengthAdjust="spacingAndGlyphs">RMS 24</text>
<path d="M711,273.5 V323.3 H650.2 V444.2 H712 V509.4" fill="none" stroke="#22222d" stroke-width="0.8" />
<path d="M687,342.9 L706.5,323.3 L745.3,362.5" fill="none" stroke="#22222d" stroke-width="0.8" />
<text x="707.65" y="347.40" font-size="13.85" text-anchor="middle">63</text>
<path d="M689.7,346.8 L650.7,385.3 L670.8,404.3" fill="none" stroke="#22222d" stroke-width="0.8" />
<text x="686.75" y="367.70" font-size="12.8" text-anchor="middle">X</text>
<text x="669.30" y="375.40" font-size="12.4" text-anchor="start" transform="rotate(79 669.30 375.40)">24</text>
<path d="M628.9,381.4 L648.3,381.4 L637.7,363.5 Z" fill="none" stroke="#22222d" stroke-width="0.8" />
<text x="640.05" y="380.10" font-size="12.3" text-anchor="middle">C</text>
<path d="M654.3,404.7 L693.1,444.2 L712.7,424.3" fill="none" stroke="#22222d" stroke-width="0.8" />
<text x="693.25" y="433.90" font-size="13.85" text-anchor="middle">63</text>
<path d="M751.2,443.5 L712,482 L731.6,500.9" fill="none" stroke="#22222d" stroke-width="0.8" />
<text x="730.00" y="484.70" font-size="13.85" text-anchor="middle">63</text>
<text x="710.30" y="397.90" font-size="13.97" text-anchor="start" textLength="49.70" lengthAdjust="spacingAndGlyphs">Detail D</text>
</svg>
</body></html>
